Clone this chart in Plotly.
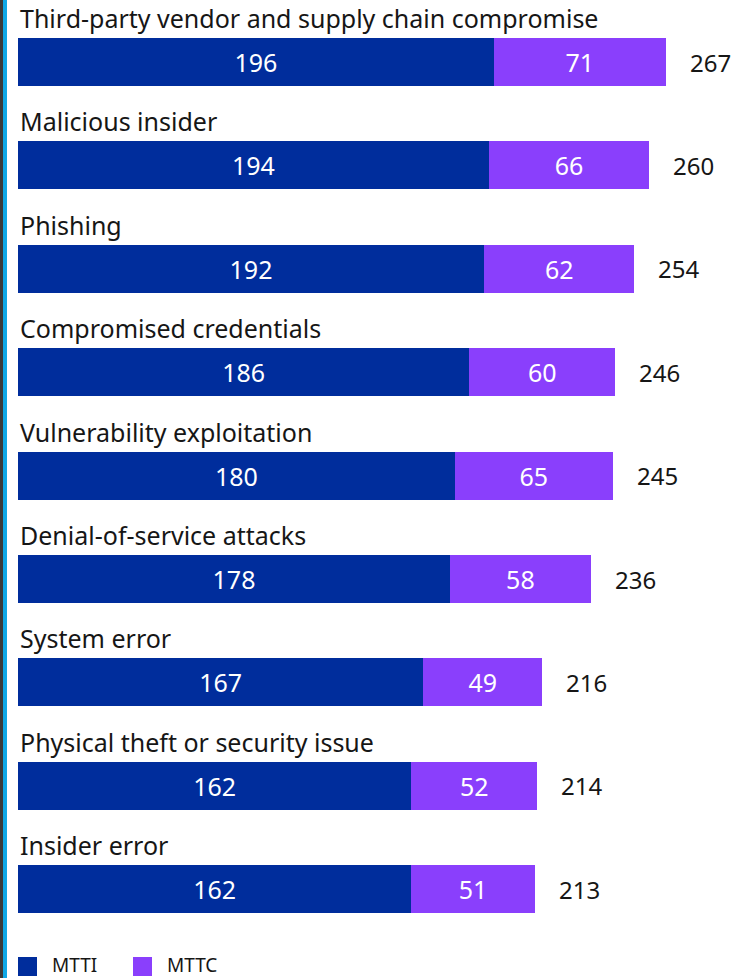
import plotly.graph_objects as go

categories = [
    "Third-party vendor and supply chain compromise",
    "Malicious insider",
    "Phishing",
    "Compromised credentials",
    "Vulnerability exploitation",
    "Denial-of-service attacks",
    "System error",
    "Physical theft or security issue",
    "Insider error",
]
mtti = [196, 194, 192, 186, 180, 178, 167, 162, 162]
mttc = [71, 66, 62, 60, 65, 58, 49, 52, 51]
totals = [267, 260, 254, 246, 245, 236, 216, 214, 213]
series_names = ["MTTI", "MTTC"]
colors = ["#002D9C", "#8A3FFC"]

W, H = 740, 978
L = 18
FONT = "Noto Sans"
idx = list(range(len(categories)))

fig = go.Figure()
for name, vals, col in zip(series_names, [mtti, mttc], colors):
    fig.add_trace(go.Bar(
        y=idx, x=vals, orientation="h", name=name,
        marker=dict(color=col, line=dict(width=0)),
        width=0.465,
        text=[str(v) for v in vals], textposition="inside",
        insidetextanchor="middle", constraintext="none",
        textfont=dict(family=FONT, size=25, color="white"),
        showlegend=False, hoverinfo="skip",
    ))

annotations = []
for i, (c, t) in enumerate(zip(categories, totals)):
    annotations.append(dict(
        x=0, y=i, xref="x", yref="y", text=c, showarrow=False,
        xanchor="left", yanchor="middle", xshift=0, yshift=44,
        font=dict(family=FONT, size=25, color="#161616"),
    ))
    annotations.append(dict(
        x=t, y=i, xref="x", yref="y", text=str(t), showarrow=False,
        xanchor="left", yanchor="middle", xshift=22, yshift=0,
        font=dict(family=FONT, size=24, color="#161616"),
    ))

pw = W - L
shapes = [
    dict(type="rect", xref="paper", yref="paper", x0=-18 / pw, x1=-15 / pw,
         y0=0, y1=1, fillcolor="#3a3a3a", line=dict(width=0), layer="above"),
    dict(type="rect", xref="paper", yref="paper", x0=-15 / pw, x1=-11 / pw,
         y0=0, y1=1, fillcolor="#0FA8E6", line=dict(width=0), layer="above"),
]
# manual legend
leg_x = [0, 115]
for k, (name, col) in enumerate(zip(series_names, colors)):
    x0 = leg_x[k] / pw
    shapes.append(dict(type="rect", xref="paper", yref="paper",
                       x0=x0, x1=x0 + 19 / pw,
                       y0=(H - 976) / H, y1=(H - 957) / H,
                       fillcolor=col, line=dict(width=0)))
    annotations.append(dict(x=x0 + 32 / pw, y=(H - 965) / H, xref="paper", yref="paper",
                            text=name, showarrow=False, xanchor="left", yanchor="middle",
                            font=dict(family=FONT, size=19, color="#161616")))

fig.update_layout(
    width=W, height=H, barmode="stack",
    margin=dict(l=L, r=0, t=0, b=0),
    paper_bgcolor="white", plot_bgcolor="white",
    xaxis=dict(range=[0, pw / 2.427], visible=False, fixedrange=True),
    yaxis=dict(range=[(H - 62) / 103.4, -62 / 103.4], visible=False, fixedrange=True),
    annotations=annotations, shapes=shapes,
    uniformtext=dict(mode=False),
)
fig.write_html("out.html", config={"displayModeBar": False},
               post_script="document.body.style.margin='0';")
